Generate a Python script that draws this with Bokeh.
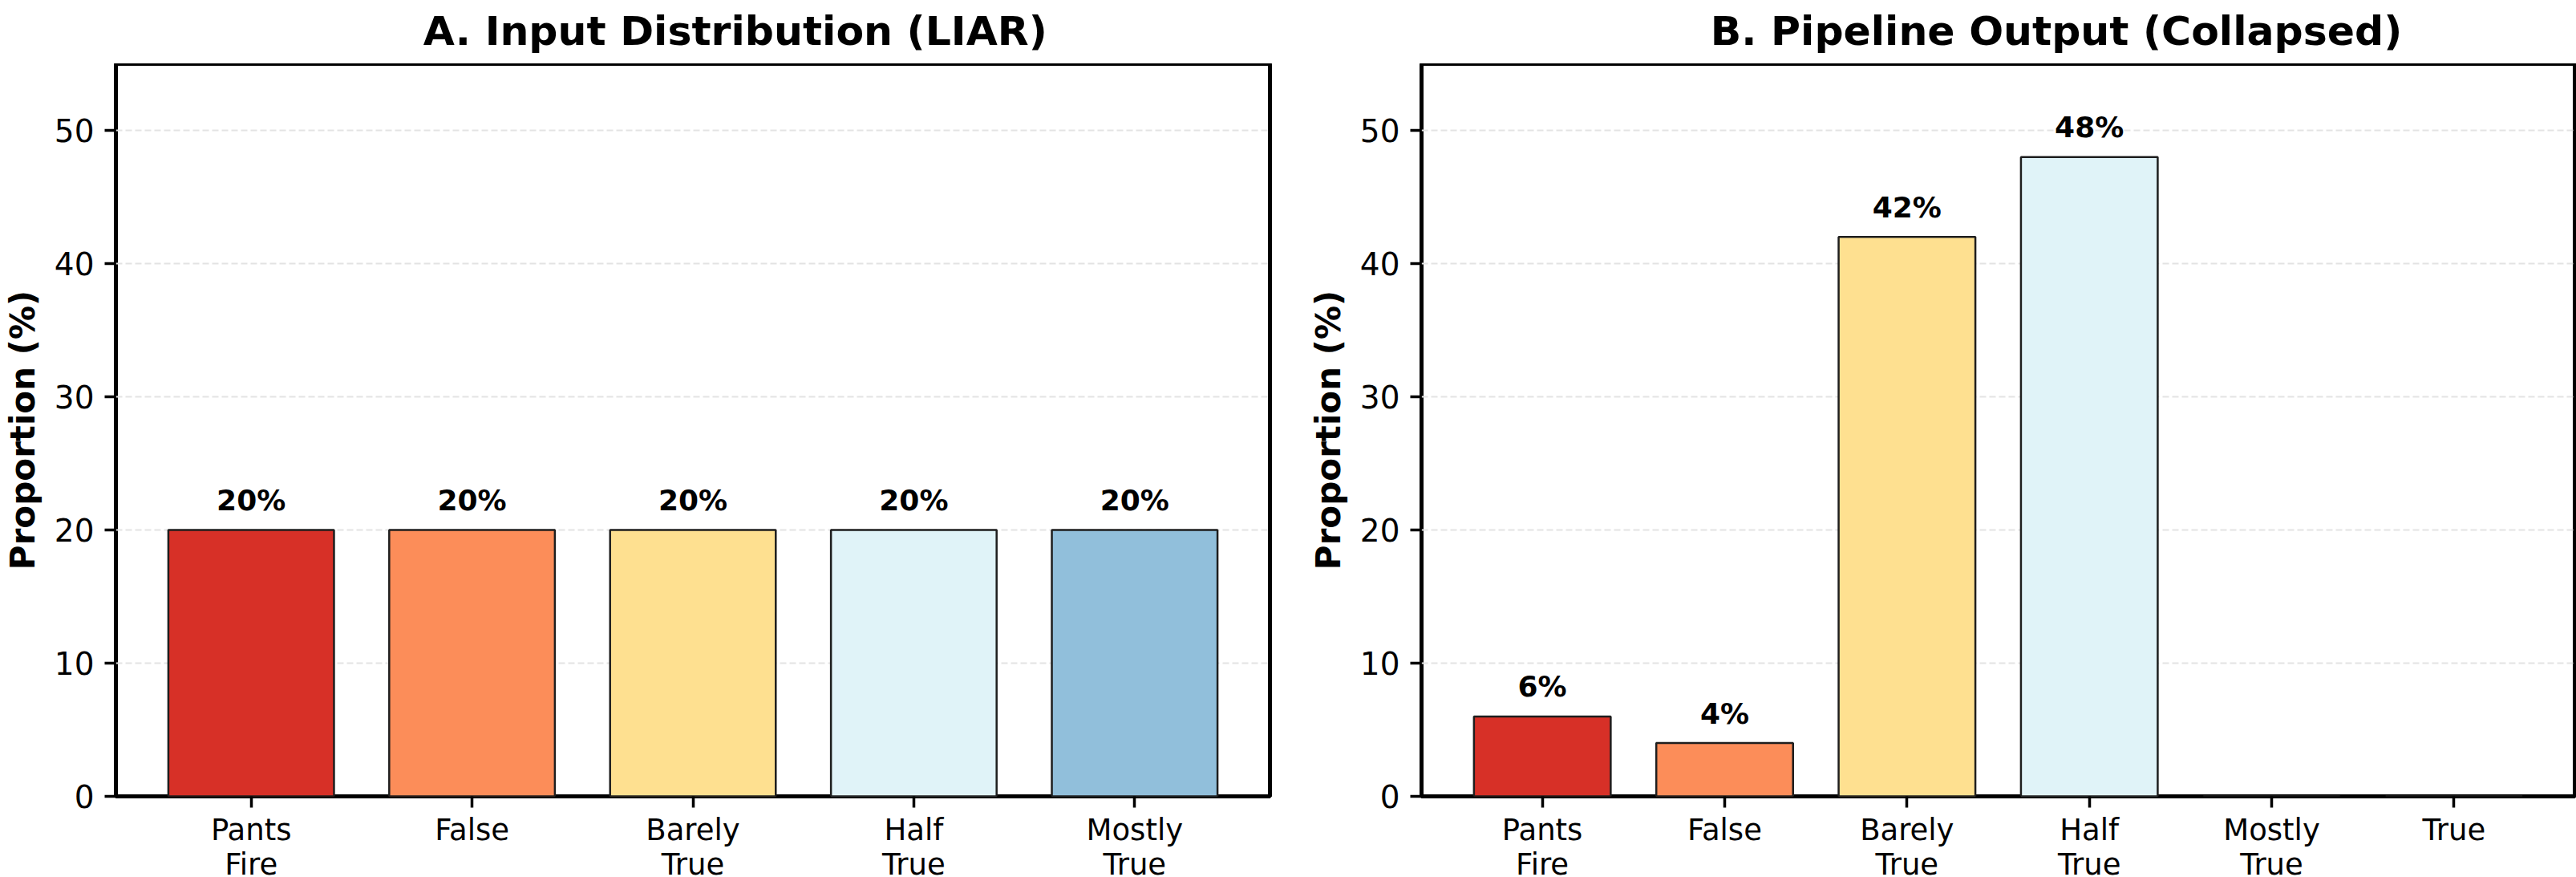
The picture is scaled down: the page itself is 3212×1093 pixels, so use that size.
from bokeh.plotting import figure
from bokeh.layouts import row, column
from bokeh.models import ColumnDataSource, Range1d, FixedTicker
from bokeh.core.properties import value
from bokeh.embed import file_html
from bokeh.resources import INLINE

# Truthfulness categories and their colours
input_labels = ["Pants\nFire", "False", "Barely\nTrue", "Half\nTrue", "Mostly\nTrue"]
input_values = [20, 20, 20, 20, 20]
input_colors = ["#d73027", "#fc8d59", "#fee090", "#e0f3f8", "#91bfdb"]

output_labels = ["Pants\nFire", "False", "Barely\nTrue", "Half\nTrue", "Mostly\nTrue", "True"]
output_values = [6, 4, 42, 48, 0, 0]
output_colors = ["#d73027", "#fc8d59", "#fee090", "#e0f3f8", "#91bfdb", "#4575b4"]

y_ticks = [0, 10, 20, 30, 40, 50]
y_max = 55

FONT = "DejaVu Sans"
BAR_WIDTH = 0.75
FRAME_H = 913
HEAD_H = 79       # height of the heading strip above each panel
HEAD_BASE = 38    # heading baseline, measured from the top of the strip


def make_heading(text, border_left, frame_w, border_right):
    """A bare strip holding the panel heading, centred over the plot frame."""
    total_w = border_left + frame_w + border_right
    h = figure(
        width=total_w, height=HEAD_H,
        x_range=Range1d(0, total_w), y_range=Range1d(0, HEAD_H),
        min_border=0, output_backend="svg", toolbar_location=None,
        x_axis_location=None, y_axis_location=None,
    )
    h.outline_line_color = None
    h.background_fill_color = "white"
    h.border_fill_color = "white"
    h.grid.visible = False
    h.text(x=[border_left + frame_w / 2], y=[HEAD_H - HEAD_BASE], text=[text],
           text_font=value(FONT), text_font_size="50.5px", text_font_style="bold",
           text_align="center", text_baseline="alphabetic", text_color="black")
    return h


def make_panel(labels, values, colors, border_left, border_right, frame_w):
    n = len(labels)
    span = (n - 1) + BAR_WIDTH
    pad = 0.05 * span
    x_range = Range1d(-BAR_WIDTH / 2 - pad, (n - 1) + BAR_WIDTH / 2 + pad)

    p = figure(
        x_range=x_range,
        y_range=Range1d(0, y_max),
        frame_width=frame_w,
        frame_height=FRAME_H,
        min_border_left=border_left,
        min_border_right=border_right,
        min_border_top=0,
        min_border_bottom=101,
        output_backend="svg",
        toolbar_location=None,
    )
    p.background_fill_color = "white"
    p.border_fill_color = "white"
    p.outline_line_color = "black"
    p.outline_line_width = 5

    xs = list(range(n))
    src = ColumnDataSource(dict(
        x=xs, top=values, color=colors,
        label=[f"{v:.0f}%" if v > 0 else "" for v in values],
    ))
    p.vbar(x="x", top="top", bottom=0, width=BAR_WIDTH, fill_color="color",
           line_color="#1e1e1e", line_width=2.5, source=src)
    p.text(x="x", y="top", text="label", source=src,
           text_font=value(FONT), text_font_style="bold", text_font_size="36px",
           text_align="center", text_baseline="alphabetic", y_offset=-37,
           text_color="black")

    # axes
    p.xaxis.ticker = FixedTicker(ticks=xs)
    p.xaxis.major_label_overrides = {i: lab for i, lab in enumerate(labels)}
    p.yaxis.ticker = FixedTicker(ticks=y_ticks)
    p.yaxis.axis_label = "Proportion (%)"
    for ax in (p.xaxis[0], p.yaxis[0]):
        ax.axis_line_color = None
        ax.major_tick_line_color = "black"
        ax.major_tick_line_width = 3.5
        ax.major_tick_out = 14
        ax.major_tick_in = 0
        ax.minor_tick_line_color = None
        ax.major_label_text_font = FONT
        ax.major_label_text_color = "black"
    p.xaxis.major_label_text_font_size = "37px"
    p.xaxis.major_label_text_line_height = 1.0
    p.xaxis.major_label_standoff = 6
    p.yaxis.major_label_text_font_size = "39px"
    p.yaxis.major_label_standoff = 13
    p.yaxis.axis_label_text_font = FONT
    p.yaxis.axis_label_text_font_size = "42px"
    p.yaxis.axis_label_text_font_style = "bold"
    p.yaxis.axis_label_text_color = "black"
    p.yaxis.axis_label_standoff = 12

    # grid
    p.xgrid.grid_line_color = None
    p.ygrid.grid_line_color = "#e3e3e3"
    p.ygrid.grid_line_width = 2
    p.ygrid.grid_line_dash = "8 4"
    return p


ha = make_heading("A. Input Distribution (LIAR)", 143, 1439, 24)
pa = make_panel(input_labels, input_values, input_colors, 143, 24, 1439)
hb = make_heading("B. Pipeline Output (Collapsed)", 165, 1438, 3)
pb = make_panel(output_labels, output_values, output_colors, 165, 3, 1438)

layout = row(column(ha, pa, spacing=0), column(hb, pb, spacing=0), spacing=0)
open("out.html", "w").write(file_html(layout, INLINE))
